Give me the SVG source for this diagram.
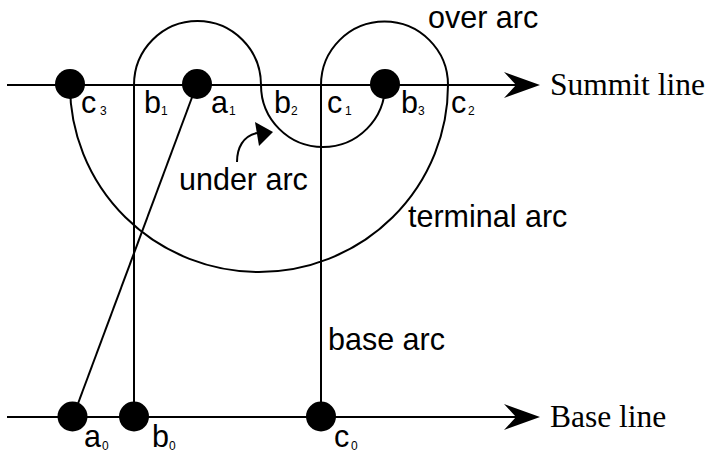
<svg xmlns="http://www.w3.org/2000/svg" width="710" height="457" viewBox="0 0 710 457">
<style>
.ln{fill:none;stroke:#000;stroke-width:2}
.dot{fill:#000}
.head{fill:#000}
.lbl{font-family:"Liberation Sans",Arial,sans-serif;font-size:30.5px;fill:#000}
.sub{font-size:12px}
.ser{font-family:"Liberation Serif","Times New Roman",serif;font-size:31.5px;fill:#000}
</style>
<defs>
<path id="stealth" d="M-36,-13 L0,0 L-36,13 L-24,0 Z"/>
</defs>
<g id="connectors">
<line class="ln" x1="7" y1="85" x2="520" y2="85"/>
<use href="#stealth" class="head" x="540" y="85"/>
<line class="ln" x1="7" y1="417" x2="520" y2="417"/>
<use href="#stealth" class="head" x="540" y="417"/>
<path class="ln" d="M134,417 L134,85 A63.5,64 0 0 1 261,85 A62,62 0 0 0 385,85"/>
<path class="ln" d="M321,417 L321,85 A63.5,63.5 0 0 1 448,85 A189,187 0 0 1 70,85"/>
<line class="ln" x1="197" y1="84" x2="73" y2="417"/>
<path class="ln" d="M237,162 C237,148 243,136 257,133"/>
<path class="head" d="M255,122 L273,132 L259,146 Z"/>
</g>
<g id="node-c3"><circle class="dot" cx="70" cy="84" r="15"/><text class="lbl" x="81" y="112.5">c<tspan class="sub" x="100" y="114.5">3</tspan></text></g>
<g id="node-b1"><text class="lbl" x="144" y="112.5">b<tspan class="sub" x="161" y="114.5">1</tspan></text></g>
<g id="node-a1"><circle class="dot" cx="197" cy="84" r="15"/><text class="lbl" x="211" y="112.5">a<tspan class="sub" x="229" y="114.5">1</tspan></text></g>
<g id="node-b2"><text class="lbl" x="274" y="112.5">b<tspan class="sub" x="291" y="114.5">2</tspan></text></g>
<g id="node-c1"><text class="lbl" x="327" y="112.5">c<tspan class="sub" x="345" y="114.5">1</tspan></text></g>
<g id="node-b3"><circle class="dot" cx="385" cy="84" r="15"/><text class="lbl" x="401" y="112.5">b<tspan class="sub" x="418" y="114.5">3</tspan></text></g>
<g id="node-c2"><text class="lbl" x="451" y="112.5">c<tspan class="sub" x="468" y="114.5">2</tspan></text></g>
<g id="node-a0"><circle class="dot" cx="72.5" cy="416.5" r="15"/><text class="lbl" x="84" y="447">a<tspan class="sub" x="102" y="450">0</tspan></text></g>
<g id="node-b0"><circle class="dot" cx="134" cy="416.5" r="15"/><text class="lbl" x="152" y="447">b<tspan class="sub" x="169" y="450">0</tspan></text></g>
<g id="node-c0"><circle class="dot" cx="321" cy="416.5" r="15"/><text class="lbl" x="334" y="447">c<tspan class="sub" x="351" y="450">0</tspan></text></g>
<g id="labels">
<text class="ser" x="550" y="95">Summit line</text>
<text class="ser" x="550" y="427">Base line</text>
<text class="lbl" x="428" y="28">over arc</text>
<text class="lbl" x="179" y="190">under arc</text>
<text class="lbl" x="408" y="227">terminal arc</text>
<text class="lbl" x="328" y="350">base arc</text>
</g>
</svg>
